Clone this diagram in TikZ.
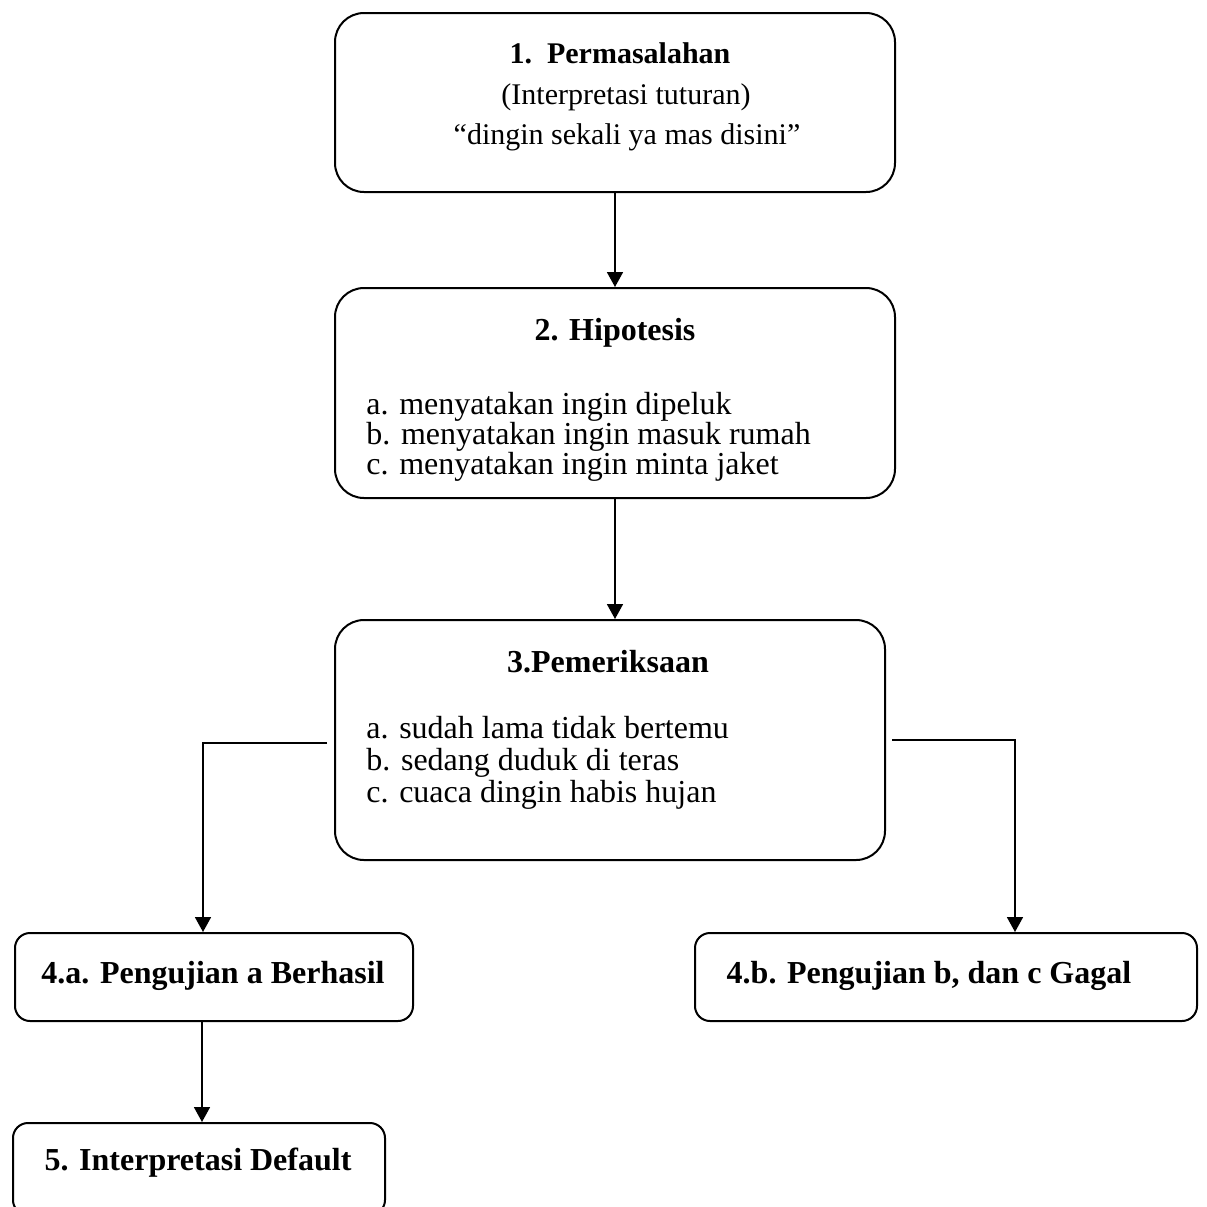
\documentclass[tikz,border=0pt]{standalone}
\usepackage{fontspec}
\setmainfont{Liberation Serif}
\usetikzlibrary{arrows.meta,positioning}

\begin{document}
\begin{tikzpicture}[x=0.5pt,y=-0.5pt,
  bigbox/.style={draw,line width=1pt,rounded corners=14.5pt},
  smallbox/.style={draw,line width=1pt,rounded corners=7.5pt},
  ttl/.style={font=\fontsize{16}{15}\selectfont\bfseries,anchor=base,inner sep=0pt},
  ttlsm/.style={font=\fontsize{15}{15}\selectfont\bfseries,anchor=base,inner sep=0pt},
  ln/.style={font=\fontsize{16}{15}\selectfont,anchor=base west,inner sep=0pt},
  midsm/.style={font=\fontsize{15}{15}\selectfont,anchor=base,inner sep=0pt},
  ar/.style={-{Triangle[length=7.5pt,width=8pt]},line width=0.9pt}]
  \useasboundingbox (0,0) rectangle (1207,1207);
  % kotak
  \node[bigbox,minimum width=280pt,minimum height=89.5pt] (perm) at (615,102.5) {};
  \node[bigbox,minimum width=280pt,minimum height=105pt] (hipo) at (615,393) {};
  \node[bigbox,minimum width=275pt,minimum height=120pt] (peri) at (610,740) {};
  \node[smallbox,minimum width=199pt,minimum height=44pt] (uji1) at (214,977) {};
  \node[smallbox,minimum width=251pt,minimum height=44pt] (uji2) at (946,977) {};
  \node[smallbox,minimum width=186pt,minimum height=46pt] (dflt) at (199,1169) {};
  % teks
  \node[ttlsm] (t1) at (620,63) {1.\ \ Permasalahan};
  \node[midsm] (t1a) at (626,104) {(Interpretasi tuturan)};
  \node[midsm] (t1b) at (627,144) {“dingin sekali ya mas disini”};
  \node[ttl] (h2) at (615,340) {2. Hipotesis};
  \node[ln] (h2a) at (366,414) {a. menyatakan ingin dipeluk};
  \node[ln] (h2b) at (366,444) {b. menyatakan ingin masuk rumah};
  \node[ln] (h2c) at (366,474) {c. menyatakan ingin minta jaket};
  \node[ttl] (p3) at (608,672) {3.Pemeriksaan};
  \node[ln] (p3a) at (366,738) {a. sudah lama tidak bertemu};
  \node[ln] (p3b) at (366,770) {b. sedang duduk di teras};
  \node[ln] (p3c) at (366,802) {c. cuaca dingin habis hujan};
  \node[ttl] (u1) at (213,983) {4.a. Pengujian a Berhasil};
  \node[ttl] (u2) at (929,983) {4.b. Pengujian b, dan c Gagal};
  \node[ttl] (d5) at (198,1170) {5. Interpretasi Default};
  % panah
  \draw[ar] (perm.south) -- (hipo.north);
  \draw[ar] (hipo.south) -- (hipo.south |- peri.north);
  \draw[ar] ([xshift=-3.5pt,yshift=-1.5pt]peri.west) -| ([xshift=-5.5pt]uji1.north);
  \draw[ar] ([xshift=3pt]peri.east) -| ([xshift=34.5pt]uji2.north);
  \draw[ar] ([xshift=-6pt]uji1.south) -- ([xshift=-6pt]uji1.south |- dflt.north);
\end{tikzpicture}
\end{document}
